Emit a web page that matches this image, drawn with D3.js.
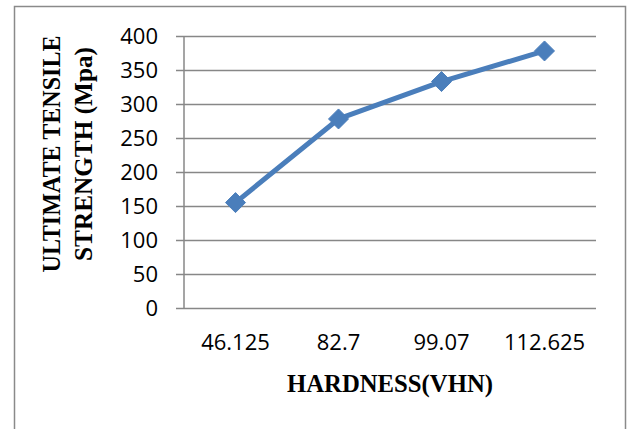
<!DOCTYPE html>
<html>
<head>
<meta charset="utf-8">
<script src="https://cdn.jsdelivr.net/npm/d3@7"></script>
<style>
  html, body { margin: 0; padding: 0; background: #fff; }
  svg { display: block; }
</style>
</head>
<body>
<script>
// Hardness categories and measured ultimate tensile strength
const hardness = ["46.125", "82.7", "99.07", "112.625"];
const strength = [155, 278, 333, 378];
const yTicks = [0, 50, 100, 150, 200, 250, 300, 350, 400];
const yTitleLines = ["ULTIMATE TENSILE", "STRENGTH (Mpa)"];
const xTitle = "HARDNESS(VHN)";

const W = 629, H = 429;
const plot = { left: 184, right: 596, top: 36, bottom: 308 };

const svg = d3.select("body").append("svg")
  .attr("width", W).attr("height", H);

// outer chart frame
svg.append("rect")
  .attr("x", 14.5).attr("y", 6.5)
  .attr("width", 611).attr("height", 440)
  .attr("fill", "#fff")
  .attr("stroke", "#8a8a8a").attr("stroke-width", 1.5);

const x = d3.scaleBand().domain(hardness).range([plot.left, plot.right]);
const y = d3.scaleLinear().domain([0, 400]).range([plot.bottom, plot.top]);

const tickFont = "'Open Sans', sans-serif";
const titleFont = "'Liberation Serif', 'Times New Roman', serif";

// horizontal gridlines with left tick marks
const yAxis = svg.append("g")
  .attr("transform", `translate(${plot.left},0)`)
  .call(d3.axisLeft(y).tickValues(yTicks).tickSize(8).tickFormat(d3.format("d")));
yAxis.select(".domain").remove();
yAxis.selectAll(".tick line")
  .attr("x2", plot.right - plot.left)
  .attr("x1", -8)
  .attr("stroke", "#878787").attr("stroke-width", 1.5);
yAxis.selectAll(".tick text")
  .attr("x", -26)
  .attr("dy", "0.36em")
  .attr("fill", "#000")
  .style("font-family", tickFont)
  .style("font-size", "22px");

// vertical axis line
svg.append("line")
  .attr("x1", plot.left).attr("x2", plot.left)
  .attr("y1", plot.top).attr("y2", plot.bottom)
  .attr("stroke", "#878787").attr("stroke-width", 1.5);

// category labels
const xAxis = svg.append("g")
  .attr("transform", `translate(0,${plot.bottom})`)
  .call(d3.axisBottom(x).tickSize(0).tickPadding(0));
xAxis.select(".domain").remove();
xAxis.selectAll(".tick text")
  .attr("y", 42)
  .attr("dy", 0)
  .attr("fill", "#000")
  .style("font-family", tickFont)
  .style("font-size", "22px");

// series line
const cx = d => x(d) + x.bandwidth() / 2;
const pts = hardness.map((h, i) => [cx(h), y(strength[i])]);
svg.append("path")
  .attr("d", d3.line()(pts))
  .attr("fill", "none")
  .attr("stroke", "#4a7ebb")
  .attr("stroke-width", 5)
  .attr("stroke-linejoin", "round");

// diamond markers
svg.selectAll(".marker").data(strength).join("path")
  .attr("class", "marker")
  .attr("transform", (d, i) => `translate(${cx(hardness[i])},${y(d)})`)
  .attr("d", "M0,-10L10,0L0,10L-10,0Z")
  .attr("fill", "#4a7ebb")
  .attr("stroke", "#4a7ebb").attr("stroke-width", 1);

// axis titles
svg.append("text")
  .attr("x", (plot.left + plot.right) / 2)
  .attr("y", 392)
  .attr("text-anchor", "middle")
  .style("font-family", titleFont)
  .style("font-weight", "bold")
  .style("font-size", "25px")
  .attr("textLength", 206)
  .attr("lengthAdjust", "spacingAndGlyphs")
  .text(xTitle);

const yT = svg.append("g")
  .attr("transform", "translate(0,154) rotate(-90)");
const yLens = [237, 214];
yTitleLines.forEach((t, i) => {
  yT.append("text")
    .attr("x", 0)
    .attr("y", 60 + i * 32)
    .attr("text-anchor", "middle")
    .style("font-family", titleFont)
    .style("font-weight", "bold")
    .style("font-size", "25px")
    .attr("textLength", yLens[i])
    .attr("lengthAdjust", "spacingAndGlyphs")
    .text(t);
});
</script>
</body>
</html>
